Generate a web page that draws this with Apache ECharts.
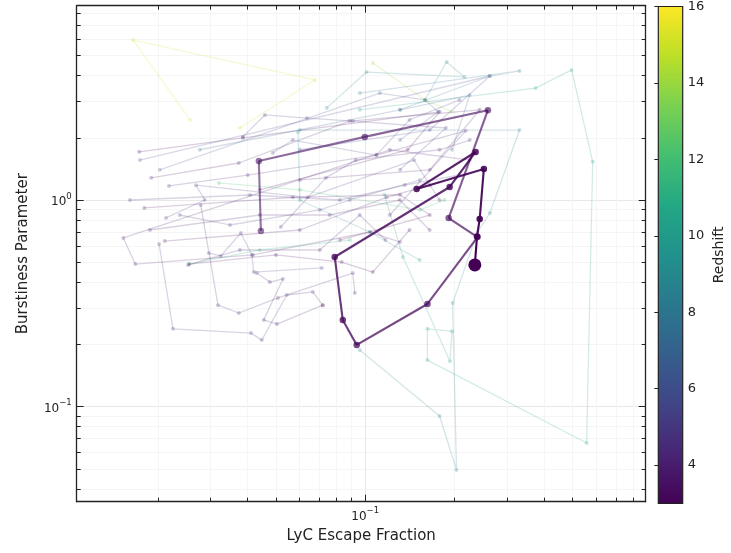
<!DOCTYPE html>
<html>
<head>
<meta charset="utf-8">
<script src="https://cdn.jsdelivr.net/npm/echarts@6/dist/echarts.min.js"></script>
<style>
  html, body { margin: 0; padding: 0; background: #ffffff; }
  #chart { width: 731px; height: 553px; }
</style>
</head>
<body>
<div id="chart"></div>
<script>
// ---- Highlighted galaxy track (LyC escape fraction vs burstiness) ----
const mainFesc     = [0.0445, 0.0438, 0.0996, 0.259, 0.191, 0.239, 0.162, 0.0936, 0.084, 0.0789, 0.1925, 0.2355, 0.149, 0.251, 0.243, 0.238, 0.234];
const mainBurst    = [0.708, 1.544, 2.02, 2.72, 0.818, 0.662, 0.314, 0.199, 0.263, 0.53, 1.156, 1.707, 1.13, 1.413, 0.809, 0.665, 0.485];
const mainRedshift = [3.6, 3.55, 3.5, 3.45, 3.4, 3.35, 3.3, 3.28, 3.25, 3.22, 3.19, 3.16, 3.13, 3.1, 3.07, 3.03, 3.0];

// ---- Background galaxy tracks ----
const trackRedshift = [15, 14, 9, 8, 10, 8.5, 3.3, 3.7, 4.1, 3.5, 4.6, 3.9, 4.4, 3.6, 4.0, 3.4, 4.8, 3.8, 4.3, 4.7, 5.2, 4.2, 6, 7, 12, 11.5, 5.5, 9.5, 4.5, 3.8, 5.0];
const trackFesc = [
  [0.0257, 0.0165, 0.0676, 0.0378],
  [0.106, 0.159, 0.196],
  [0.0742, 0.101, 0.216, 0.188, 0.159],
  [0.0958, 0.331, 0.263, 0.131],
  [0.0958, 0.375, 0.496, 0.584, 0.557, 0.162, 0.162, 0.196, 0.193, 0.134, 0.116],
  [0.0602, 0.331, 0.263, 0.239, 0.197, 0.203, 0.178, 0.0958],
  [0.0173, 0.0387, 0.178, 0.139, 0.0441],
  [0.0190, 0.0375, 0.0887, 0.243, 0.165, 0.0602],
  [0.0218, 0.0402, 0.109, 0.218, 0.121],
  [0.0180, 0.0570, 0.131, 0.165, 0.0821],
  [0.0213, 0.0288, 0.0269, 0.0640, 0.146, 0.178],
  [0.225, 0.121, 0.0153, 0.0168, 0.0418, 0.104, 0.131],
  [0.0202, 0.0225, 0.0412, 0.0448, 0.0544, 0.0666, 0.0719],
  [0.0211, 0.0602, 0.118, 0.165],
  [0.0279, 0.0319, 0.0375, 0.0508, 0.0908, 0.0922],
  [0.0255, 0.0500, 0.0833, 0.106, 0.141],
  [0.0297, 0.0326, 0.0381, 0.0415, 0.0421, 0.0714],
  [0.0431, 0.0477, 0.0528, 0.0455, 0.0504, 0.0719],
  [0.0253, 0.0378, 0.0703, 0.0958, 0.117],
  [0.0387, 0.0459, 0.0636, 0.0908, 0.187, 0.131],
  [0.0488, 0.0570, 0.109, 0.141, 0.208],
  [0.0519, 0.0737, 0.0929, 0.178, 0.225],
  [0.0203, 0.112, 0.159, 0.176, 0.131],
  [0.0277, 0.131, 0.225, 0.196],
  [0.0321, 0.0602, 0.153, 0.185],
  [0.0255, 0.0441, 0.0887],
  [0.0174, 0.263, 0.165, 0.0602],
  [0.0593, 0.0602, 0.1035, 0.1526],
  [0.0161, 0.0409, 0.0821, 0.1359, 0.2081],
  [0.0188, 0.0441, 0.0759, 0.1307, 0.1649],
  [0.0237, 0.0350, 0.0703, 0.0887, 0.1526]
];
const trackBurst = [
  [2.44, 5.94, 3.81, 2.23],
  [4.60, 3.05, 2.67],
  [2.79, 4.16, 3.94, 4.65, 3.05],
  [3.29, 4.21, 3.98, 2.73],
  [2.73, 3.48, 4.26, 1.53, 0.0667, 0.168, 0.238, 0.232, 0.166, 0.530, 1.06],
  [2.18, 2.18, 0.865, 0.700, 0.317, 0.0494, 0.0902, 0.188],
  [1.71, 2.00, 2.67, 1.75, 1.12],
  [1.28, 1.51, 2.41, 2.73, 1.40, 1.25],
  [1.17, 1.32, 1.65, 2.16, 0.846],
  [0.915, 1.03, 1.06, 0.846, 0.640],
  [0.819, 1.00, 1.18, 1.03, 1.56, 1.00],
  [1.56, 1.75, 0.655, 0.490, 0.542, 0.700, 0.626],
  [0.613, 0.238, 0.227, 0.210, 0.347, 0.359, 0.310],
  [0.633, 0.716, 1.03, 1.18],
  [0.946, 0.310, 0.284, 0.336, 0.443, 0.355],
  [0.490, 0.542, 0.501, 0.448, 0.716],
  [0.554, 0.536, 0.692, 0.542, 0.448, 0.469],
  [0.443, 0.401, 0.415, 0.263, 0.251, 0.310],
  [0.485, 0.573, 0.573, 0.846, 0.640],
  [2.02, 2.58, 2.49, 2.41, 2.23, 1.40],
  [1.69, 1.95, 1.65, 2.44, 3.05],
  [0.740, 1.28, 1.56, 1.75, 1.95],
  [1.40, 3.29, 3.05, 2.67, 1.95],
  [1.75, 2.73, 3.22, 1.75],
  [1.21, 1.12, 0.895, 1.00],
  [0.490, 0.573, 0.640],
  [1.56, 3.98, 2.18, 1.75],
  [2.13, 1.00, 0.700, 0.5125],
  [1.00, 1.057, 1.00, 1.181, 1.321],
  [0.716, 0.846, 0.846, 1.00, 0.716],
  [0.846, 0.757, 0.895, 1.00, 1.249]
];

// ---- Axis ranges and ticks ----
const fescRange  = [0.01066, 0.881];
const burstRange = [0.0347, 8.71];
const redshiftRange = [3, 16];
const xMajorTicks = [0.1];
const xMinorTicks = [0.02, 0.03, 0.04, 0.05, 0.06, 0.07, 0.08, 0.09, 0.2, 0.3, 0.4, 0.5, 0.6, 0.7, 0.8];
const yMajorTicks = [0.1, 1];
const yMinorTicks = [0.04, 0.05, 0.06, 0.07, 0.08, 0.09, 0.2, 0.3, 0.4, 0.5, 0.6, 0.7, 0.8, 0.9, 2, 3, 4, 5, 6, 7, 8];
const cbarTicks = [4, 6, 8, 10, 12, 14, 16];

// viridis colour map
const viridis = ['#440154', '#482475', '#414487', '#355f8d', '#2a788e', '#21918c', '#22a884', '#44bf70', '#7ad151', '#bddf26', '#fde725'];
function hexRgb(h) { return [parseInt(h.slice(1, 3), 16), parseInt(h.slice(3, 5), 16), parseInt(h.slice(5, 7), 16)]; }
function zColor(z) {
  let t = (z - redshiftRange[0]) / (redshiftRange[1] - redshiftRange[0]);
  t = Math.max(0, Math.min(1, t));
  const p = t * (viridis.length - 1);
  const i = Math.min(viridis.length - 2, Math.floor(p));
  const f = p - i;
  const a = hexRgb(viridis[i]), b = hexRgb(viridis[i + 1]);
  const c = a.map((v, k) => Math.round(v + (b[k] - v) * f));
  return 'rgb(' + c.join(',') + ')';
}

const FONT = 'DejaVu Sans';
const pow10Label = v => {
  const e = Math.round(Math.log10(v));
  return '{b|10}{s|' + (e < 0 ? '\u2212' + (-e) : e) + '}';
};
const powRich = {
  b: { fontFamily: FONT, fontSize: 12, color: '#222', lineHeight: 16, verticalAlign: 'bottom' },
  s: { fontFamily: FONT, fontSize: 8.5, color: '#222', lineHeight: 9, verticalAlign: 'top' }
};
const spine = { show: true, onZero: false, lineStyle: { color: '#222', width: 1.3 } };

function logAxis(dim, pos, ticks, tickLen, opts) {
  return Object.assign({
    type: 'log', logBase: 10, position: pos, gridIndex: 0,
    min: dim === 'x' ? fescRange[0] : burstRange[0],
    max: dim === 'x' ? fescRange[1] : burstRange[1],
    axisLine: { show: false },
    axisTick: { show: true, inside: true, length: tickLen, customValues: ticks, lineStyle: { color: '#222', width: 1 } },
    axisLabel: { show: false },
    splitLine: { show: false },
    minorTick: { show: false }
  }, opts || {});
}

const xAxes = [
  logAxis('x', 'bottom', xMajorTicks, 7, {
    axisLine: spine,
    axisLabel: { show: true, customValues: xMajorTicks, formatter: pow10Label, rich: powRich, margin: 5 },
    splitLine: { show: true, lineStyle: { color: '#e2e2e2', width: 0.8 } },
    name: 'LyC Escape Fraction', nameLocation: 'middle', nameGap: 27,
    nameTextStyle: { fontFamily: FONT, fontSize: 15, color: '#222' }
  }),
  logAxis('x', 'bottom', xMinorTicks, 4, { splitLine: { show: true, lineStyle: { color: '#f3f3f3', width: 0.8 } } }),
  logAxis('x', 'top', xMajorTicks, 7, { axisLine: spine }),
  logAxis('x', 'top', xMinorTicks, 4),
  { type: 'value', gridIndex: 1, min: 0, max: 1, show: false }
];
const yAxes = [
  logAxis('y', 'left', yMajorTicks, 7, {
    axisLine: spine,
    axisLabel: { show: true, customValues: yMajorTicks, formatter: pow10Label, rich: powRich, margin: 5 },
    splitLine: { show: true, lineStyle: { color: '#e2e2e2', width: 0.8 } },
    name: 'Burstiness Parameter', nameLocation: 'middle', nameGap: 46, nameRotate: 90,
    nameTextStyle: { fontFamily: FONT, fontSize: 15, color: '#222' }
  }),
  logAxis('y', 'left', yMinorTicks, 4, { splitLine: { show: true, lineStyle: { color: '#f3f3f3', width: 0.8 } } }),
  logAxis('y', 'right', yMajorTicks, 7, { axisLine: spine }),
  logAxis('y', 'right', yMinorTicks, 4),
  {
    type: 'value', gridIndex: 1, position: 'right',
    min: redshiftRange[0], max: redshiftRange[1],
    axisLine: { show: false },
    axisTick: { show: true, inside: true, length: 4, customValues: cbarTicks, lineStyle: { color: '#222', width: 1 } },
    axisLabel: { show: true, customValues: cbarTicks, fontFamily: FONT, fontSize: 13, color: '#222', margin: 5 },
    splitLine: { show: false },
    name: 'Redshift', nameLocation: 'middle', nameGap: 30, nameRotate: 90,
    nameTextStyle: { fontFamily: FONT, fontSize: 14, color: '#222' }
  }
];

const series = [];

// faint background tracks, coloured by redshift
trackFesc.forEach((fs, i) => {
  const col = zColor(trackRedshift[i]);
  series.push({
    type: 'line', xAxisIndex: 0, yAxisIndex: 0, silent: true, z: 2,
    data: fs.map((f, j) => [f, trackBurst[i][j]]),
    symbol: 'circle', symbolSize: 4, showSymbol: true,
    lineStyle: { color: col, width: 1.3, opacity: 0.2 },
    itemStyle: { color: col, opacity: 0.24 }
  });
});

// highlighted track: segments fade in towards the latest snapshot
const n = mainFesc.length;
for (let i = 0; i < n - 1; i++) {
  series.push({
    type: 'line', xAxisIndex: 0, yAxisIndex: 0, silent: true, z: 5,
    data: [[mainFesc[i], mainBurst[i]], [mainFesc[i + 1], mainBurst[i + 1]]],
    symbol: 'none',
    lineStyle: { color: zColor(mainRedshift[i + 1]), width: 2.1, opacity: 0.55 + 0.45 * (i + 1) / (n - 1) }
  });
}
series.push({
  type: 'scatter', xAxisIndex: 0, yAxisIndex: 0, silent: true, z: 6,
  data: mainFesc.map((f, i) => ({
    value: [f, mainBurst[i]],
    symbolSize: i === n - 1 ? 13 : 6.5,
    itemStyle: { color: zColor(mainRedshift[i]), opacity: 0.55 + 0.45 * i / (n - 1) }
  }))
});

// colour bar
series.push({
  type: 'custom', xAxisIndex: 4, yAxisIndex: 4, silent: true,
  data: [[0, 1, redshiftRange[0], redshiftRange[1]]],
  renderItem: (params, api) => {
    const p0 = api.coord([api.value(0), api.value(2)]);
    const p1 = api.coord([api.value(1), api.value(3)]);
    const stops = viridis.map((c, k) => ({ offset: k / (viridis.length - 1), color: c }));
    return {
      type: 'rect',
      shape: { x: p0[0], y: p1[1], width: p1[0] - p0[0], height: p0[1] - p1[1] },
      style: { fill: new echarts.graphic.LinearGradient(0, 1, 0, 0, stops), stroke: '#222', lineWidth: 1.2 }
    };
  }
});

const chart = echarts.init(document.getElementById('chart'), null, { renderer: 'canvas' });
chart.setOption({
  animation: false,
  backgroundColor: '#ffffff',
  grid: [
    { left: 76.7, top: 5.7, right: 85.3, bottom: 51.3, containLabel: false },
    { left: 658.3, top: 5.7, width: 24.4, bottom: 49.7, containLabel: false }
  ],
  xAxis: xAxes,
  yAxis: yAxes,
  series: series
});
</script>
</body>
</html>
